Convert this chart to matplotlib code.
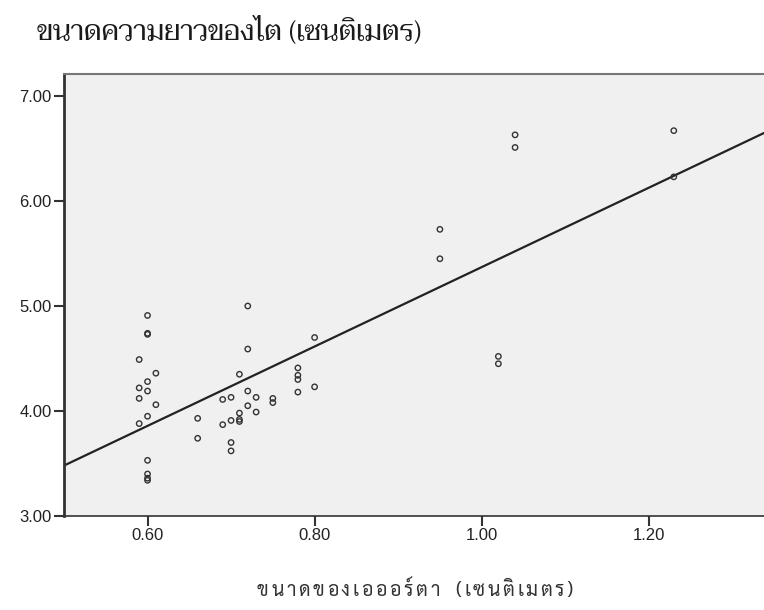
import matplotlib
matplotlib.use("Agg")
import matplotlib.pyplot as plt
from matplotlib import font_manager
import numpy as np

# aorta size (cm) vs kidney length (cm)
aorta = [0.59, 0.59, 0.59, 0.59,
         0.60, 0.60, 0.60, 0.60, 0.60, 0.60, 0.60, 0.60, 0.60, 0.60,
         0.61, 0.61, 0.66, 0.66, 0.69, 0.69,
         0.70, 0.70, 0.70, 0.70, 0.71, 0.71, 0.71, 0.71,
         0.72, 0.72, 0.72, 0.72, 0.73, 0.73, 0.75, 0.75,
         0.78, 0.78, 0.78, 0.78, 0.80, 0.80,
         0.95, 0.95, 1.02, 1.02, 1.04, 1.04, 1.23, 1.23]
kidney = [4.49, 4.22, 4.12, 3.88,
          4.91, 4.74, 4.73, 4.28, 4.19, 3.95, 3.53, 3.40, 3.36, 3.34,
          4.36, 4.06, 3.93, 3.74, 4.11, 3.87,
          4.13, 3.91, 3.70, 3.62, 4.35, 3.98, 3.92, 3.90,
          5.00, 4.59, 4.19, 4.05, 4.13, 3.99, 4.12, 4.08,
          4.41, 4.34, 4.30, 4.18, 4.70, 4.23,
          5.73, 5.45, 4.52, 4.45, 6.63, 6.51, 6.67, 6.23]

xticks = [0.60, 0.80, 1.00, 1.20]
yticks = [3.00, 4.00, 5.00, 6.00, 7.00]
title = "ขนาดความยาวของไต (เซนติเมตร)"
xlabel = "ขนาดของเอออร์ตา (เซนติเมตร)"

def pick(cands):
    have = {f.name for f in font_manager.fontManager.ttflist}
    for c in cands:
        if c in have:
            return c
    return "DejaVu Sans"

serif_thai = pick(["Taviraj", "Trirong", "Noto Serif Thai", "Pridi"])
sans_thai = pick(["Sarabun", "Noto Sans Thai Looped", "IBM Plex Sans Thai Looped", "Noto Sans Thai"])

# thai combining marks stay with the preceding letter
MARKS = set(chr(c) for c in [0x0E31] + list(range(0x0E34, 0x0E3B)) + list(range(0x0E47, 0x0E4F)))

def clusters(s):
    out = []
    for ch in s:
        if ch in MARKS and out:
            out[-1] += ch
        else:
            out.append(ch)
    return out

def spaced_text(fig, s, xc, y, width, **kw):
    # SPSS draws this label with wide letter spacing, lay the clusters out one by one
    r = fig.canvas.get_renderer()
    parts = clusters(s)
    objs = [fig.text(0, y, p, ha="left", **kw) for p in parts]
    sp = fig.text(0, 0, "n", **kw)
    spw = sp.get_window_extent(r).width
    sp.remove()
    ws = [o.get_window_extent(r).width if p.strip() else spw for o, p in zip(objs, parts)]
    W = fig.get_figwidth() * fig.dpi
    gap = (width - sum(ws)) / (len(parts) - 1)
    x = xc - width / 2
    for o, w in zip(objs, ws):
        o.set_x(x / W)
        x += w + gap

fig = plt.figure(figsize=(7.64, 6.10), dpi=100)
ax = fig.add_axes([64/764, 1 - 516/610, 1 - 64/764, (516 - 74)/610])
ax.set_facecolor("#f0f0f0")

ax.scatter(aorta, kidney, s=15, facecolors="none", edgecolors="#333333",
           linewidths=1.0, zorder=3)

# least squares fit line over the full axis range
slope, icpt = np.polyfit(aorta, kidney, 1)
xl = (0.5, 1.338)
ax.plot(xl, [icpt + slope * v for v in xl], color="#222222", lw=1.6, zorder=2)

ax.set_xlim(xl)
ax.set_ylim(3.0, 7.0 + (516 - 74) / 105 - 4.0)
ax.set_xticks(xticks)
ax.set_yticks(yticks)
ax.set_xticklabels(["%.2f" % v for v in xticks])
ax.set_yticklabels(["%.2f" % v for v in yticks])
ax.tick_params(direction="out", length=7, width=1.5, color="#333333",
               labelsize=12, labelcolor="#222222", pad=2)
for lab in ax.get_xticklabels() + ax.get_yticklabels():
    lab.set_family("Liberation Sans")

ax.spines["right"].set_visible(False)
ax.spines["left"].set_color("#333333")
ax.spines["left"].set_linewidth(2.0)
ax.spines["bottom"].set_color("#333333")
ax.spines["bottom"].set_linewidth(1.2)
ax.spines["top"].set_color("#777777")
ax.spines["top"].set_linewidth(1.5)

fig.text(37/764, 1 - 40/610, title, family=[serif_thai, "DejaVu Serif"],
         fontsize=20, va="baseline", ha="left", color="#1a1a1a")
spaced_text(fig, xlabel, 415, 1 - 596/610, 316, family=[sans_thai, "DejaVu Sans"],
            fontsize=14, va="baseline", color="#333333")

fig.savefig("out.png")
